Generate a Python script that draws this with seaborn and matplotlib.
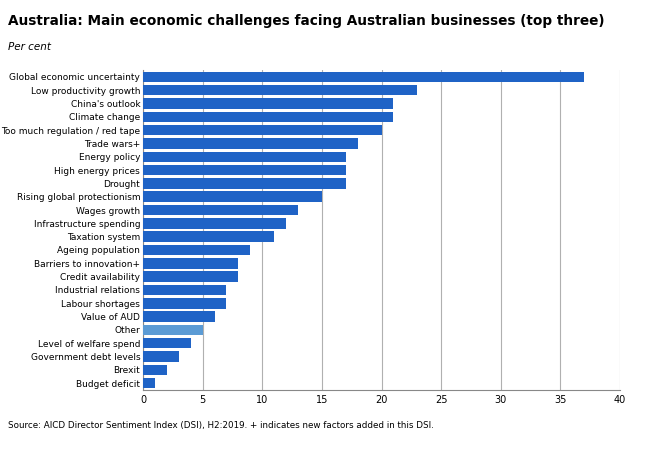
import matplotlib
matplotlib.use("Agg")
import matplotlib.pyplot as plt
import seaborn as sns
import pandas as pd

categories = ["Global economic uncertainty","Low productivity growth","China's outlook","Climate change",
 "Too much regulation / red tape","Trade wars+","Energy policy","High energy prices","Drought",
 "Rising global protectionism","Wages growth","Infrastructure spending","Taxation system",
 "Ageing population","Barriers to innovation+","Credit availability","Industrial relations",
 "Labour shortages","Value of AUD","Other","Level of welfare spend","Government debt levels",
 "Brexit","Budget deficit"]
values = [37,23,21,21,20,18,17,17,17,15,13,12,11,9,8,8,7,7,6,5,4,3,2,1]
ticks = [0,5,10,15,20,25,30,35,40]

df = pd.DataFrame({"cat": categories, "val": values})
palette = ["#5b9bd5" if c == "Other" else "#1f63c6" for c in categories]

fig = plt.figure(figsize=(6.5,4.55), dpi=100)
ax = fig.add_axes([0.22,0.143,0.734,0.703])
sns.barplot(data=df, y="cat", x="val", hue="cat", palette=palette, legend=False,
            width=0.78, saturation=1, ax=ax, zorder=3)
ax.set_xlim(0,40)
ax.set_xticks(ticks)
ax.grid(axis="x", color="#b0b0b0", linewidth=0.8, zorder=0)
ax.set_axisbelow(True)
ax.set_xlabel(""); ax.set_ylabel("")
for s in ["top","right"]:
    ax.spines[s].set_visible(False)
ax.spines["left"].set_color("#888888")
ax.spines["bottom"].set_color("#888888")
ax.tick_params(axis="y", length=0, labelsize=6.5, pad=2)
ax.tick_params(axis="x", labelsize=7, length=0)
fig.text(0.012,0.945,"Australia: Main economic challenges facing Australian businesses (top three)",
         fontsize=9.8, fontweight="bold")
fig.text(0.012,0.89,"Per cent", fontsize=7.5, style="italic")
fig.text(0.012,0.06,"Source: AICD Director Sentiment Index (DSI), H2:2019. + indicates new factors added in this DSI.",
         fontsize=6.3)
fig.savefig("out.png", dpi=100)
